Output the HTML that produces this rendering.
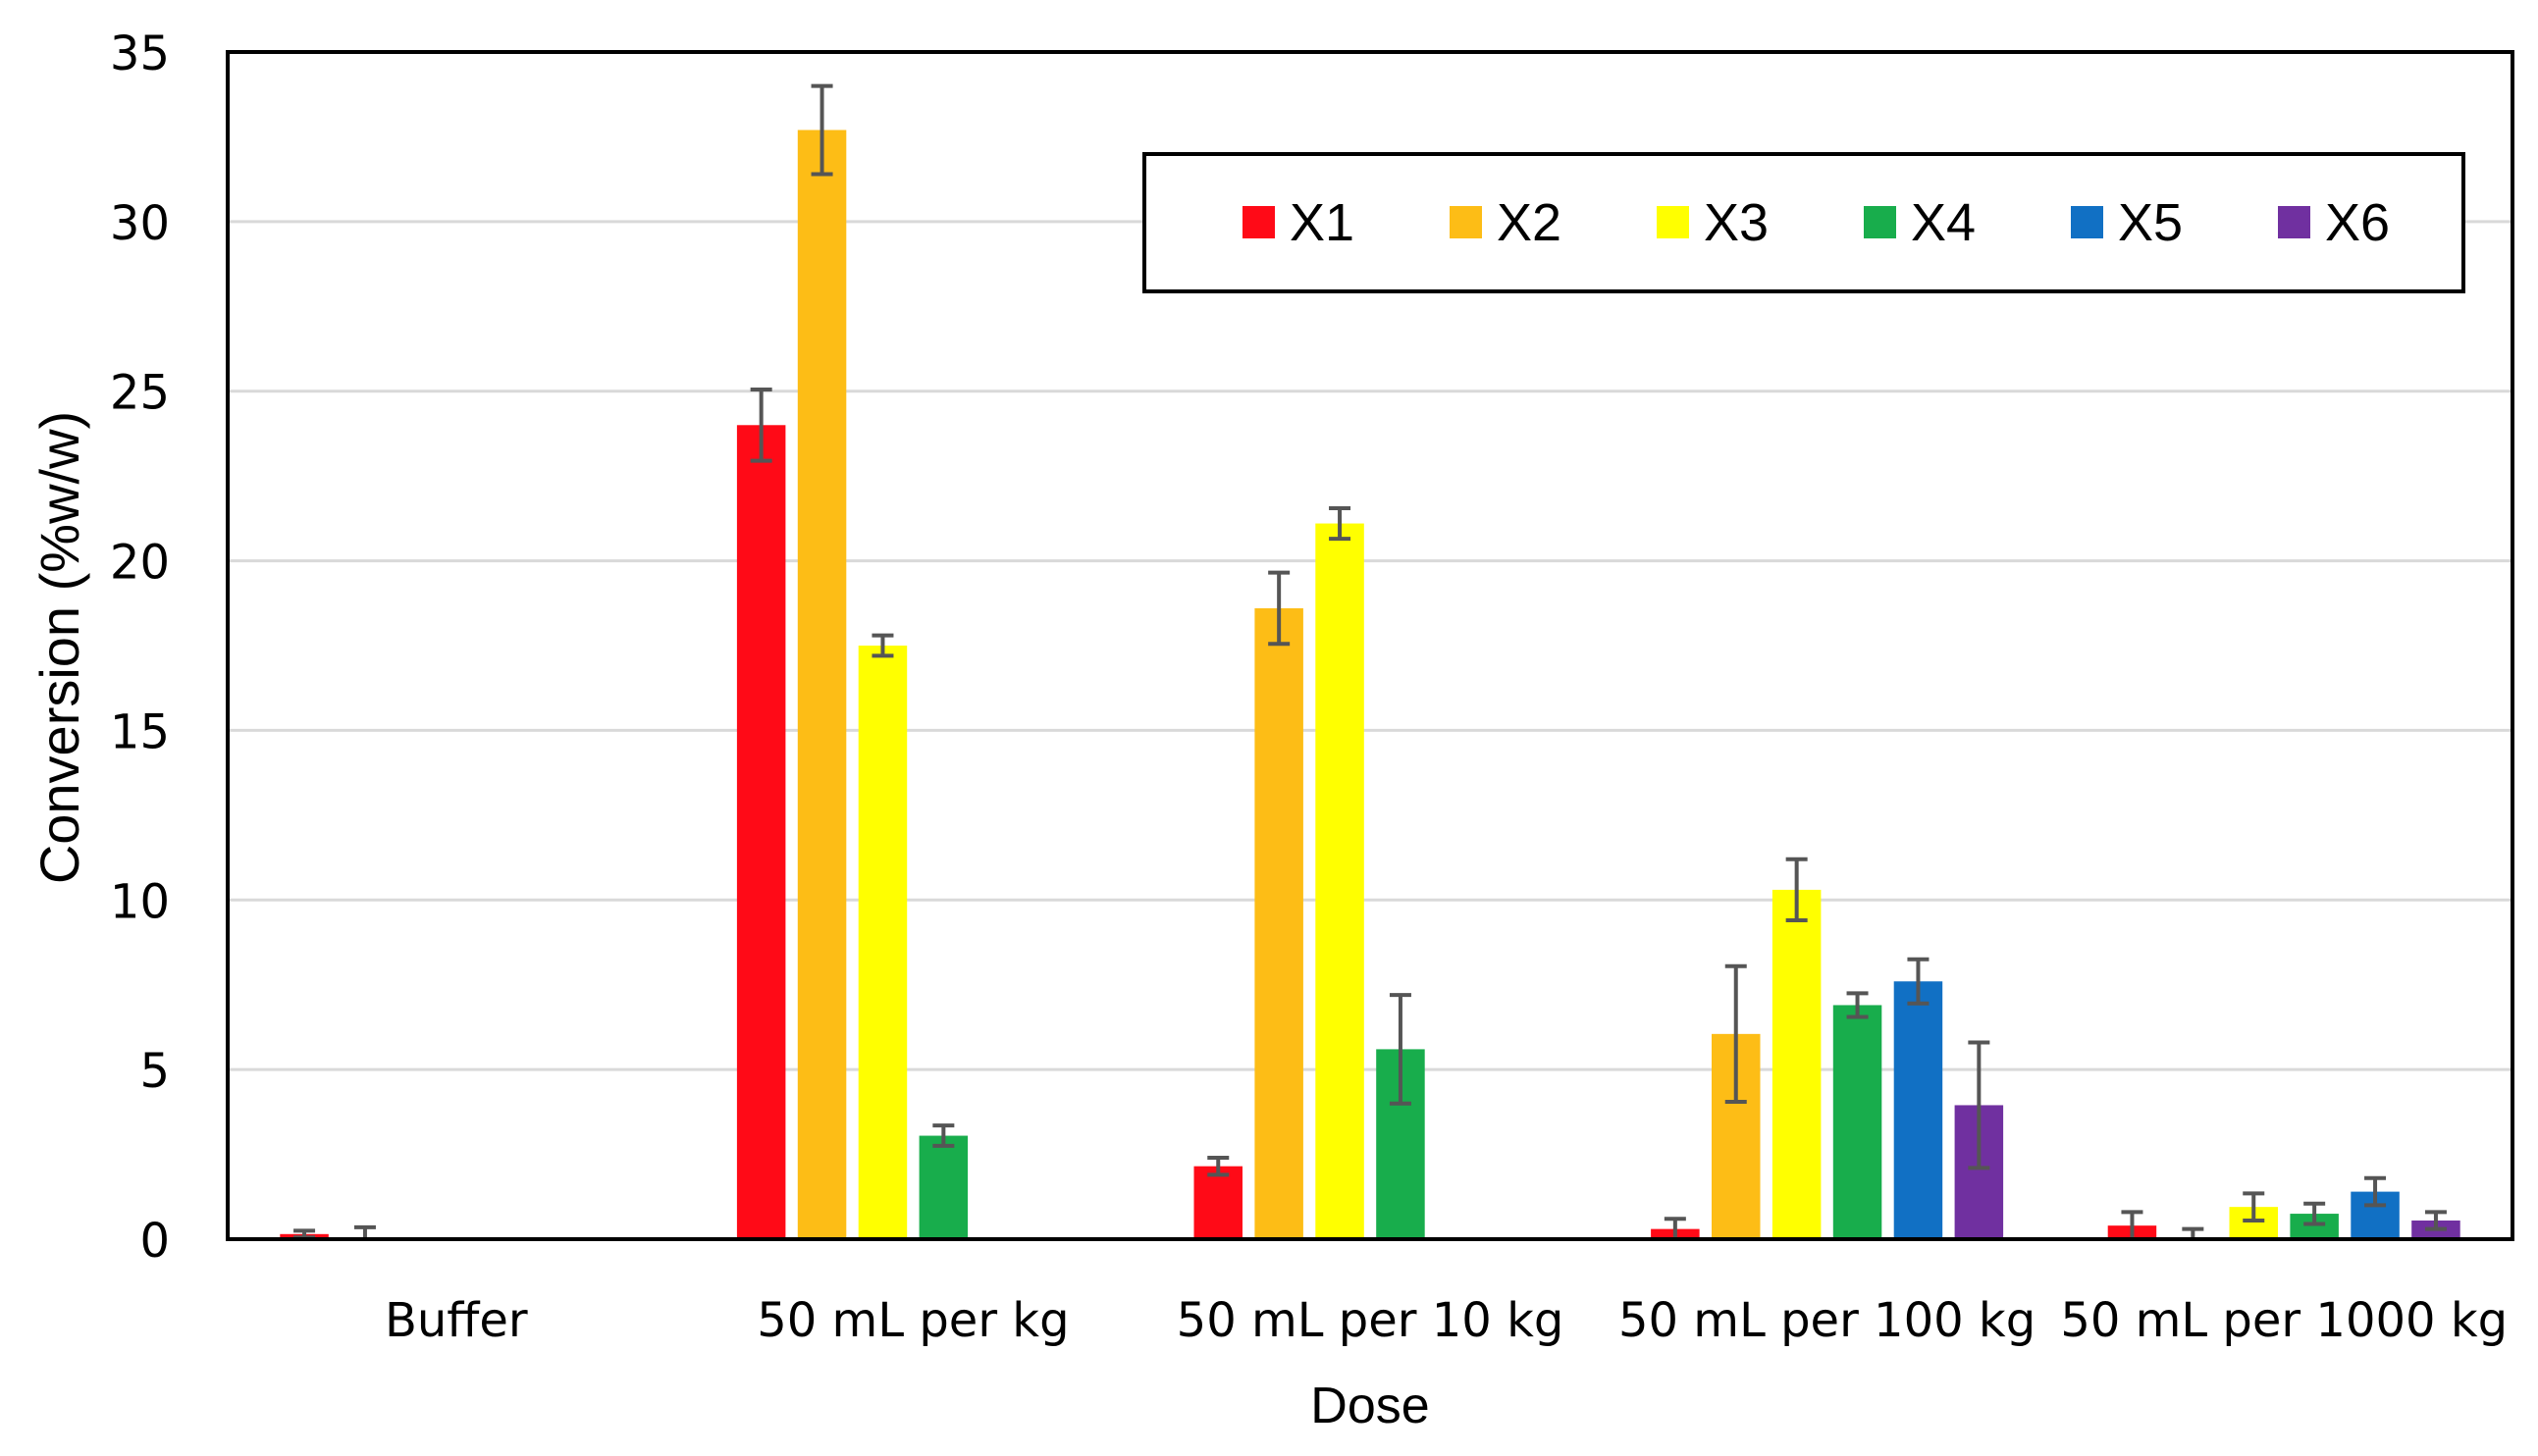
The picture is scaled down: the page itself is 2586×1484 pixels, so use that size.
<!DOCTYPE html>
<html><head><meta charset="utf-8"><style>
html,body{margin:0;padding:0;background:#fff;}
svg{display:block;}
text{font-family:"Liberation Sans",sans-serif;fill:#000;}
</style></head><body>
<svg id="chart" width="2586" height="1484" viewBox="0 0 2586 1484" xmlns="http://www.w3.org/2000/svg">
<g id="grid"></g>
<g id="bars"></g>
<g id="errs"></g>
<rect x="232" y="53" width="2328" height="1210" fill="none" stroke="#000" stroke-width="4"/>
<g id="yticks"></g>
<g id="xticks"></g>
<text transform="translate(80,660) rotate(-90)" text-anchor="middle" font-size="56" style="font-family:'Liberation Sans Narrow','Liberation Sans',sans-serif">Conversion (%w/w)</text>
<text x="1396" y="1450" text-anchor="middle" font-size="52" style="font-family:'Liberation Sans Narrow','Liberation Sans',sans-serif">Dose</text>
<g id="legend">
<rect x="1166" y="157" width="1344" height="140" fill="#fff" stroke="#000" stroke-width="4"/>
</g>
</svg>
<script>
const categories = ["Buffer","50 mL per kg","50 mL per 10 kg","50 mL per 100 kg","50 mL per 1000 kg"];
const seriesNames = ["X1","X2","X3","X4","X5","X6"];
const seriesColors = ["#ff0a17","#fdbd16","#ffff00","#18ad4c","#1170c4","#7030a0"];
const x1Values = [0.15, 24.0, 2.15, 0.3, 0.4];
const x2Values = [0, 32.7, 18.6, 6.05, 0];
const x3Values = [0, 17.5, 21.1, 10.3, 0.95];
const x4Values = [0, 3.05, 5.6, 6.9, 0.75];
const x5Values = [0, 0, 0, 7.6, 1.4];
const x6Values = [0, 0, 0, 3.95, 0.55];
const x1Err = [0.1, 1.05, 0.25, 0.3, 0.4];
const x2Err = [0.35, 1.3, 1.05, 2.0, 0.3];
const x3Err = [0, 0.3, 0.45, 0.9, 0.4];
const x4Err = [0, 0.3, 1.6, 0.35, 0.3];
const x5Err = [0, 0, 0, 0.65, 0.4];
const x6Err = [0, 0, 0, 1.85, 0.25];
const yTicks = [0,5,10,15,20,25,30,35];

const values = [x1Values,x2Values,x3Values,x4Values,x5Values,x6Values];
const errs = [x1Err,x2Err,x3Err,x4Err,x5Err,x6Err];
const L=232,R=2560,T=53,B=1263,YMAX=35;
const NS="http://www.w3.org/2000/svg";
const y = v => B - v/YMAX*(B-T);
const groupW = (R-L)/categories.length;
const pitch = 61.9, bw = 49.5;
const xc = (ci,si) => L + groupW*(ci+0.5) + (si-(seriesNames.length-1)/2)*pitch;
function mk(tag, parent, attrs){const e=document.createElementNS(NS,tag);for(const k in attrs)e.setAttribute(k,attrs[k]);parent.appendChild(e);return e;}
const grid=document.getElementById('grid'), yt=document.getElementById('yticks');
yTicks.forEach(t=>{
  if(t>0&&t<YMAX){const g=mk('line',grid,{x1:L,x2:R,y1:y(t),y2:y(t),stroke:'#d9d9d9','stroke-width':3});
  
  }
  const tx=mk('text',yt,{x:173,y:y(t)+18,'text-anchor':'end','font-size':48,style:"font-family:'DejaVu Sans',sans-serif"});
  tx.textContent=t;
  
  
});
const xt=document.getElementById('xticks');
categories.forEach((c,ci)=>{
  const tx=mk('text',xt,{x:L+groupW*(ci+0.5),y:1362,'text-anchor':'middle','font-size':48,style:"font-family:'DejaVu Sans',sans-serif"});
  tx.textContent=c;
  
  
});
const bars=document.getElementById('bars'), eg=document.getElementById('errs');
values.forEach((arr,si)=>{
  arr.forEach((v,ci)=>{
    const cx=xc(ci,si);
    if(v>0){const r=mk('rect',bars,{x:cx-bw/2,y:y(v),width:bw,height:B-y(v),fill:seriesColors[si]});
    
    }
    const e=errs[si][ci];
    if(e>0){
      const top=y(v+e), bot=Math.min(B,y(Math.max(0,v-e)));
      const p=mk('path',eg,{d:`M${cx},${top}V${bot}M${cx-11},${top}H${cx+11}M${cx-11},${bot}H${cx+11}`,stroke:'#555','stroke-width':4,fill:'none'});
      
      
    }
  });
});
const lg=document.getElementById('legend');
seriesNames.forEach((n,si)=>{
  const sx=1266+si*211;
  const r=mk('rect',lg,{x:sx,y:210,width:33,height:33,fill:seriesColors[si]});
  
  
  const t=mk('text',lg,{x:sx+48,y:245,'font-size':54,style:"font-family:'Liberation Sans Narrow','Liberation Sans',sans-serif"});
  t.textContent=n;
  
  
});
</script>
</body></html>
